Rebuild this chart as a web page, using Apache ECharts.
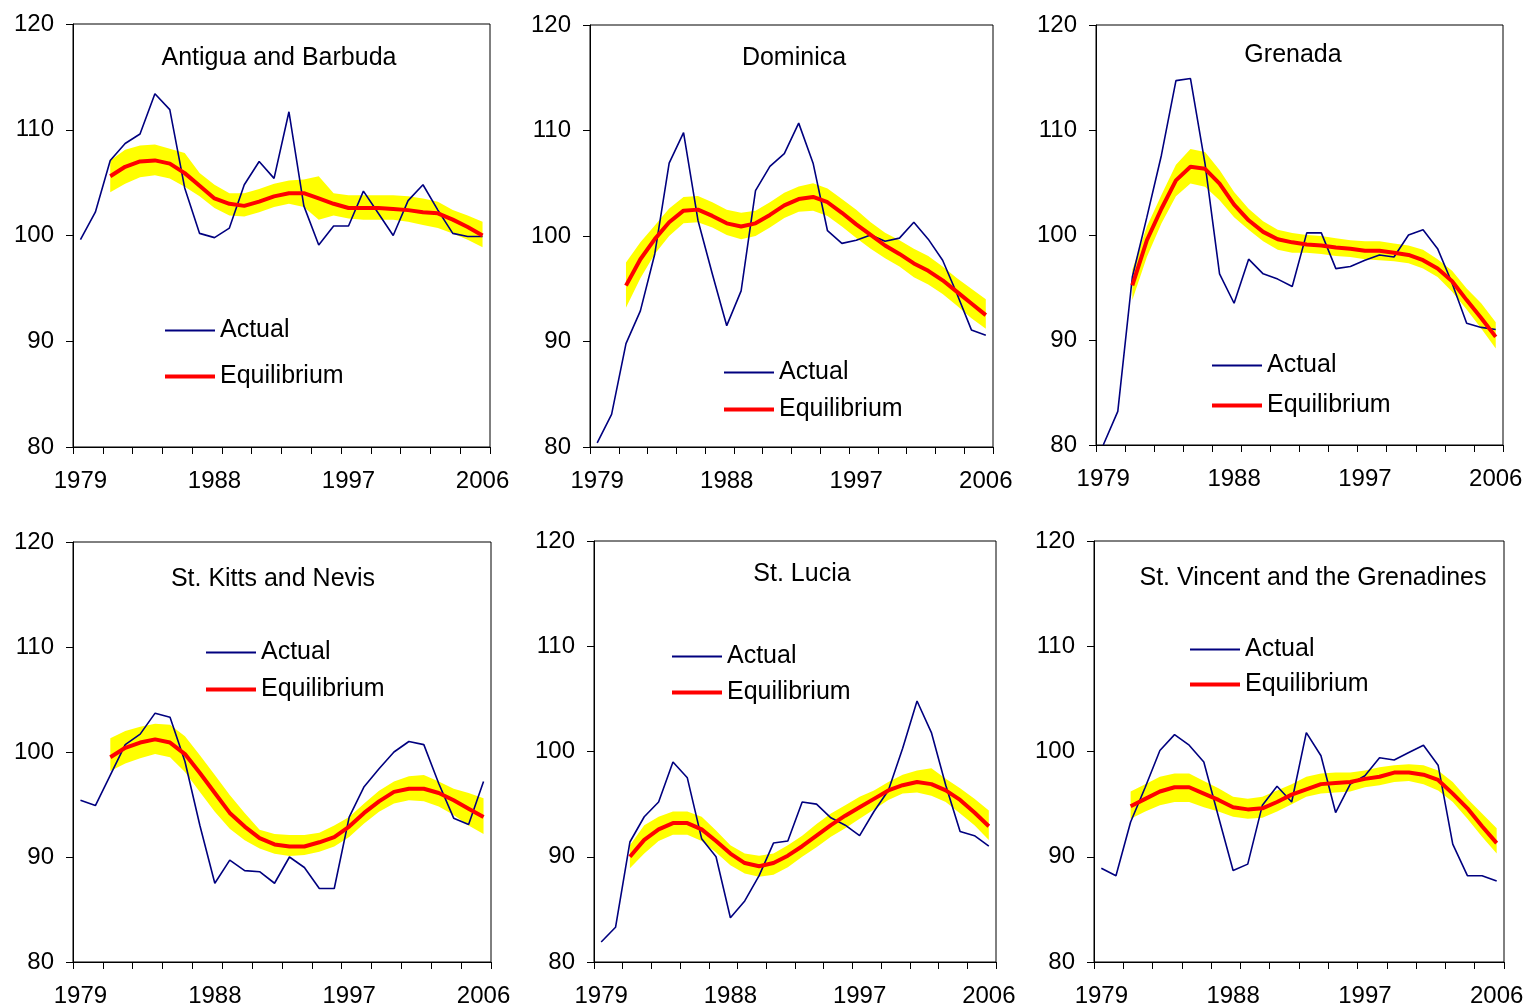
<!DOCTYPE html>
<html>
<head>
<meta charset="utf-8">
<script src="https://cdn.jsdelivr.net/npm/echarts@6/dist/echarts.min.js"></script>
<style>
  html, body { margin: 0; padding: 0; background: #fff; }
  #chart { width: 1527px; height: 1008px; }
</style>
</head>
<body>
<div id="chart"></div>
<script>
  var years = ['1979','1980','1981','1982','1983','1984','1985','1986','1987','1988','1989','1990','1991','1992',
    '1993','1994','1995','1996','1997','1998','1999','2000','2001','2002','2003','2004','2005','2006']
  var yTicks = [80, 90, 100, 110, 120]

  // Antigua and Barbuda
  var antiguaActual = [99.6,102.2,107.1,108.7,109.6,113.4,111.9,104.5,100.2,99.8,100.7,104.8,107.0,105.4,111.7,102.8,99.1,100.9,100.9,104.2,102.1,100.0,103.3,104.8,102.4,100.2,99.9,99.9]
  var antiguaEquil = [null,null,105.6,106.5,107.0,107.1,106.8,105.9,104.7,103.5,103.0,102.8,103.2,103.7,104.0,104.0,103.5,103.0,102.6,102.6,102.6,102.5,102.4,102.2,102.1,101.5,100.8,100.0]
  var antiguaUpper = [null,null,107.1,108.1,108.5,108.6,108.2,107.8,105.9,104.8,104.0,104.0,104.4,104.9,105.2,105.3,105.6,104.0,103.8,103.8,103.8,103.8,103.7,103.5,103.2,102.4,101.9,101.3]
  var antiguaLower = [null,null,104.1,104.9,105.5,105.7,105.4,104.6,103.7,102.6,101.9,101.8,102.2,102.7,103.0,102.7,101.5,101.9,101.6,101.5,101.5,101.5,101.3,101.0,100.7,100.2,99.6,98.9]

  // Dominica
  var dominicaActual = [80.4,83.1,89.8,92.9,98.3,106.9,109.8,101.5,96.4,91.5,94.8,104.3,106.6,107.8,110.7,106.9,100.5,99.3,99.6,100.1,99.5,99.8,101.3,99.7,97.7,94.5,91.1,90.6]
  var dominicaEquil = [null,null,95.3,97.8,99.7,101.3,102.4,102.5,101.9,101.2,100.9,101.2,102.0,102.9,103.5,103.7,103.2,102.2,101.1,100.1,99.1,98.3,97.4,96.7,95.8,94.7,93.6,92.5]
  var dominicaUpper = [null,null,97.5,99.4,101.0,102.6,103.7,103.8,103.2,102.5,102.2,102.4,103.2,104.1,104.7,105.0,104.5,103.5,102.5,101.3,100.3,99.6,98.8,98.1,97.1,96.0,95.0,94.0]
  var dominicaLower = [null,null,93.2,96.0,98.3,100.0,101.2,101.3,100.8,100.1,99.7,100.0,100.8,101.7,102.3,102.4,101.9,100.9,99.8,98.8,97.9,97.1,96.1,95.4,94.5,93.4,92.2,91.2]

  // Grenada
  var grenadaActual = [80.0,83.2,96.0,101.7,107.6,114.7,114.9,106.8,96.3,93.5,97.7,96.3,95.8,95.1,100.2,100.2,96.8,97.0,97.6,98.1,97.9,100.0,100.5,98.7,95.4,91.6,91.2,91.0]
  var grenadaEquil = [null,null,95.2,99.5,102.5,105.2,106.5,106.3,104.9,102.9,101.4,100.3,99.6,99.3,99.1,99.0,98.8,98.7,98.5,98.5,98.3,98.1,97.6,96.8,95.6,93.8,92.1,90.3]
  var grenadaUpper = [null,null,96.7,100.8,103.8,106.7,108.2,107.9,106.2,104.1,102.5,101.3,100.5,100.2,100.0,99.9,99.7,99.5,99.4,99.4,99.2,99.0,98.6,97.7,96.6,94.9,93.5,91.7]
  var grenadaLower = [null,null,93.8,97.9,101.1,103.7,104.9,104.6,103.3,101.7,100.5,99.4,98.6,98.3,98.3,98.2,98.0,97.9,97.7,97.6,97.5,97.3,96.8,96.0,94.6,92.9,91.1,89.2]

  // St. Kitts and Nevis
  var kittsActual = [95.4,94.9,97.8,100.7,101.7,103.7,103.3,99.1,93.0,87.5,89.7,88.7,88.6,87.5,90.0,89.0,87.0,87.0,93.8,96.7,98.4,100.0,101.0,100.7,97.0,93.7,93.1,97.2]
  var kittsEquil = [null,null,99.5,100.4,100.9,101.2,100.9,99.8,98.0,96.1,94.2,92.9,91.8,91.2,91.0,91.0,91.4,91.9,92.9,94.2,95.3,96.2,96.5,96.5,96.1,95.4,94.6,93.8]
  var kittsUpper = [null,null,101.3,102.0,102.4,102.7,102.6,101.5,99.7,97.8,95.9,94.2,92.6,92.2,92.1,92.1,92.3,93.0,93.8,95.1,96.3,97.2,97.7,97.8,97.2,96.5,96.1,95.6]
  var kittsLower = [null,null,98.2,98.9,99.4,99.8,99.5,98.1,96.2,94.3,92.7,91.6,90.8,90.3,90.1,90.2,90.5,91.0,91.9,93.2,94.3,95.1,95.4,95.3,94.8,94.0,93.0,92.2]

  // St. Lucia
  var luciaActual = [81.9,83.3,91.4,93.8,95.2,99.0,97.5,91.7,90.0,84.2,85.8,88.2,91.3,91.5,95.2,95.0,93.7,93.0,92.0,94.3,96.3,100.3,104.8,101.8,96.8,92.4,92.0,91.0]
  var luciaEquil = [null,null,90.0,91.6,92.6,93.2,93.2,92.6,91.5,90.3,89.4,89.1,89.4,90.1,91.0,92.0,93.0,93.9,94.7,95.5,96.3,96.8,97.1,96.9,96.3,95.4,94.2,92.9]
  var luciaUpper = [null,null,91.1,93.0,93.8,94.3,94.3,93.8,92.5,91.1,90.3,90.1,90.3,91.1,92.0,93.1,94.1,94.9,95.7,96.3,97.1,97.8,98.2,98.4,97.4,96.5,95.5,94.4]
  var luciaLower = [null,null,88.9,90.3,91.5,92.1,92.1,91.5,90.4,89.2,88.4,88.1,88.3,89.0,90.0,90.9,91.9,92.7,93.6,94.5,95.4,96.0,96.1,95.8,95.2,94.1,93.0,91.6]

  // St. Vincent and the Grenadines
  var vincentActual = [88.9,88.2,93.3,96.6,100.1,101.6,100.6,99.0,93.8,88.7,89.3,94.9,96.7,95.2,101.8,99.6,94.2,96.9,97.7,99.4,99.2,99.9,100.6,98.7,91.2,88.2,88.2,87.7]
  var vincentEquil = [null,null,94.8,95.5,96.2,96.6,96.6,96.0,95.4,94.7,94.5,94.6,95.2,95.9,96.4,96.9,97.0,97.1,97.4,97.6,98.0,98.0,97.8,97.3,96.0,94.6,92.9,91.3]
  var vincentUpper = [null,null,96.2,96.9,97.6,97.9,97.9,97.2,96.5,95.7,95.5,95.7,96.3,96.9,97.6,97.9,98.0,98.0,98.2,98.5,98.7,98.8,98.7,98.2,97.1,95.5,94.1,92.7]
  var vincentLower = [null,null,93.6,94.3,94.9,95.2,95.2,94.7,94.3,93.8,93.6,93.7,94.3,95.0,95.7,96.0,96.1,96.2,96.6,96.8,97.1,97.2,96.9,96.3,95.2,93.6,91.9,90.3]

  // grid box, title centre, legend [left, actual row centre, equilibrium row centre]
  var panels = [
    { name: 'Antigua and Barbuda', actual: antiguaActual, equil: antiguaEquil, upper: antiguaUpper, lower: antiguaLower,
      grid: [73, 24, 417, 423], title: [279, 46], legend: [165, 330, 376] },
    { name: 'Dominica', actual: dominicaActual, equil: dominicaEquil, upper: dominicaUpper, lower: dominicaLower,
      grid: [590, 25, 403, 422], title: [794, 46], legend: [724, 372, 409] },
    { name: 'Grenada', actual: grenadaActual, equil: grenadaEquil, upper: grenadaUpper, lower: grenadaLower,
      grid: [1096, 25, 407, 420], title: [1293, 43], legend: [1212, 365, 405] },
    { name: 'St. Kitts and Nevis', actual: kittsActual, equil: kittsEquil, upper: kittsUpper, lower: kittsLower,
      grid: [73, 542, 418, 420], title: [273, 567], legend: [206, 652, 689] },
    { name: 'St. Lucia', actual: luciaActual, equil: luciaEquil, upper: luciaUpper, lower: luciaLower,
      grid: [594, 541, 402, 421], title: [802, 562], legend: [672, 656, 692] },
    { name: 'St. Vincent and the Grenadines', actual: vincentActual, equil: vincentEquil, upper: vincentUpper, lower: vincentLower,
      grid: [1094, 541, 410, 421], title: [1313, 566], legend: [1190, 649, 684] }
  ]

  var font = 'Liberation Sans, Arial, Helvetica, sans-serif'
  var option = {
    animation: false,
    backgroundColor: '#fff',
    textStyle: { fontFamily: font, color: '#000' },
    title: [], legend: [], grid: [], xAxis: [], yAxis: [], series: []
  }

  function legendItem(name, left, centre, thick) {
    return {
      data: [name], icon: 'rect', left: left, top: centre - 12, padding: 0,
      itemWidth: 50, itemHeight: thick, selectedMode: false,
      textStyle: { fontFamily: font, fontSize: 25, color: '#000' }
    }
  }

  panels.forEach(function (p, k) {
    option.grid.push({
      left: p.grid[0], top: p.grid[1], width: p.grid[2], height: p.grid[3],
      show: true, borderColor: '#000', borderWidth: 1, backgroundColor: 'transparent'
    })
    option.title.push({
      text: p.name, left: p.title[0], top: p.title[1], textAlign: 'center', padding: 0,
      textStyle: { fontFamily: font, fontSize: 25, fontWeight: 'normal', color: '#000' }
    })
    option.legend.push(legendItem('Actual', p.legend[0], p.legend[1], 2))
    option.legend.push(legendItem('Equilibrium', p.legend[0], p.legend[2], 4))
    option.xAxis.push({
      type: 'category', gridIndex: k, data: years, boundaryGap: true,
      axisLine: { lineStyle: { color: '#000', width: 1 } },
      axisTick: { show: true, interval: 1, length: 7, lineStyle: { color: '#000' } },
      axisLabel: { interval: 8, margin: 22, fontSize: 24, fontFamily: font, color: '#000' },
      splitLine: { show: false }
    })
    option.yAxis.push({
      type: 'value', gridIndex: k, min: yTicks[0], max: yTicks[yTicks.length - 1], interval: 10,
      axisLine: { show: true, lineStyle: { color: '#000', width: 1 } },
      axisTick: { show: true, length: 7, lineStyle: { color: '#000' } },
      axisLabel: { margin: 19, fontSize: 24, fontFamily: font, color: '#000' },
      splitLine: { show: false }
    })
    var width = p.upper.map(function (u, i) {
      return u == null ? null : Math.round((u - p.lower[i]) * 10) / 10
    })
    option.series.push(
      {
        name: 'bandLow', type: 'line', xAxisIndex: k, yAxisIndex: k, stack: 'band' + k,
        data: p.lower, symbol: 'none', silent: true,
        lineStyle: { opacity: 0 }, areaStyle: { opacity: 0 }
      },
      {
        name: 'band', type: 'line', xAxisIndex: k, yAxisIndex: k, stack: 'band' + k,
        data: width, symbol: 'none', silent: true,
        lineStyle: { width: 0, opacity: 0 }, areaStyle: { color: '#ffff00', opacity: 1 }
      },
      {
        name: 'Actual', type: 'line', xAxisIndex: k, yAxisIndex: k, data: p.actual,
        symbol: 'none', color: '#00007f', lineStyle: { color: '#00007f', width: 1.6 }
      },
      {
        name: 'Equilibrium', type: 'line', xAxisIndex: k, yAxisIndex: k, data: p.equil,
        symbol: 'none', color: '#ff0000', lineStyle: { color: '#ff0000', width: 4 }
      }
    )
  })

  var chart = echarts.init(document.getElementById('chart'))
  chart.setOption(option)
</script>
</body>
</html>
